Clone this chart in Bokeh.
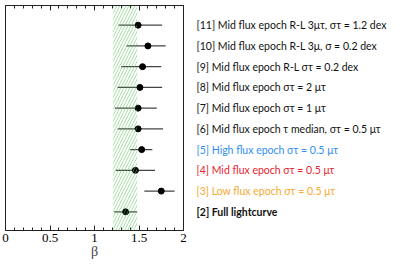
from bokeh.plotting import figure
from bokeh.layouts import row
from bokeh.models import (LinearAxis, BoxAnnotation, Range1d, FixedTicker,
                          ColumnDataSource, CustomJSTickFormatter)
from bokeh.core.properties import value
from bokeh.embed import file_html
from bokeh.resources import INLINE

# ---- data ----
rows = [11, 10, 9, 8, 7, 6, 5, 4, 3, 2]
beta = [1.49, 1.60, 1.54, 1.51, 1.49, 1.49, 1.53, 1.46, 1.75, 1.35]
beta_lo = [1.27, 1.36, 1.30, 1.26, 1.23, 1.26, 1.40, 1.24, 1.56, 1.22]
beta_hi = [1.76, 1.80, 1.75, 1.76, 1.70, 1.77, 1.65, 1.68, 1.90, 1.48]
labels = [
    "[11] Mid flux epoch R-L 3\u03bc\u03c4, \u03c3\u03c4 = 1.2 dex",
    "[10] Mid flux epoch R-L 3\u03bc, \u03c3 = 0.2 dex",
    "[9] Mid flux epoch R-L \u03c3\u03c4 = 0.2 dex",
    "[8] Mid flux epoch \u03c3\u03c4 = 2 \u03bc\u03c4",
    "[7] Mid flux epoch \u03c3\u03c4 = 1 \u03bc\u03c4",
    "[6] Mid flux epoch \u03c4 median, \u03c3\u03c4 = 0.5 \u03bc\u03c4",
    "[5] High flux epoch \u03c3\u03c4 = 0.5 \u03bc\u03c4",
    "[4] Mid flux epoch \u03c3\u03c4 = 0.5 \u03bc\u03c4",
    "[3] Low flux epoch \u03c3\u03c4 = 0.5 \u03bc\u03c4",
    "[2] Full lightcurve",
]
label_colors = ["#111111"] * 6 + ["#2f8ef0", "#e8232d", "#f7a931", "#111111"]
band = (1.21, 1.48)
x_ticks = [0, 0.5, 1, 1.5, 2]
x_minor = [i / 10 for i in range(0, 21)]

H = 261
TOP = 5
BOTTOM = 20
y_rng = Range1d(1.1, 11.95)

# ---- main panel ----
p = figure(width=188, height=H, output_backend="svg", toolbar_location=None,
           x_range=Range1d(0, 2), y_range=y_rng)
p.min_border_left = 5
p.min_border_right = 5
p.min_border_top = TOP
p.min_border_bottom = BOTTOM
p.grid.visible = False
p.yaxis.visible = False
p.background_fill_color = "white"
p.border_fill_color = "white"
p.outline_line_color = "#222222"
p.outline_line_width = 1

xa = p.xaxis[0]
xa.ticker = FixedTicker(ticks=x_ticks, minor_ticks=x_minor)
xa.major_tick_in = 5
xa.major_tick_out = 0
xa.minor_tick_in = 3
xa.minor_tick_out = 0
xa.axis_line_color = "#222222"
xa.major_tick_line_color = "#222222"
xa.minor_tick_line_color = "#222222"
xa.major_label_text_font = "Liberation Serif"
xa.major_label_text_font_size = "13px"
xa.major_label_text_color = "black"
xa.major_label_standoff = 3
xa.axis_label = "\u03b2"
xa.axis_label_text_font = "Liberation Serif"
xa.axis_label_text_font_style = "normal"
xa.axis_label_text_font_size = "14px"
xa.axis_label_standoff = -1

top = LinearAxis(ticker=FixedTicker(ticks=x_ticks, minor_ticks=x_minor),
                 formatter=CustomJSTickFormatter(code="return ''"))
top.major_tick_in = 5
top.major_tick_out = 0
top.minor_tick_in = 3
top.minor_tick_out = 0
top.major_label_standoff = 0
top.axis_line_color = "#222222"
top.major_tick_line_color = "#222222"
top.minor_tick_line_color = "#222222"
p.add_layout(top, "above")

band_box = BoxAnnotation(left=band[0], right=band[1], fill_alpha=0, line_alpha=0,
                         hatch_pattern="/", hatch_color="#5cbf5c", hatch_alpha=0.75,
                         hatch_scale=6, hatch_weight=0.7)
p.add_layout(band_box)

p.segment(x0=beta_lo, y0=rows, x1=beta_hi, y1=rows, line_color="#444444", line_width=1.3)
p.scatter(x=beta, y=rows, size=6, color="black")

# ---- label panel ----
q = figure(width=203, height=H, output_backend="svg", toolbar_location=None,
           x_range=Range1d(0, 1), y_range=y_rng)
q.min_border_left = 0
q.min_border_right = 0
q.min_border_top = TOP
q.min_border_bottom = BOTTOM
q.axis.visible = False
q.grid.visible = False
q.outline_line_color = None
q.background_fill_color = "white"
q.border_fill_color = "white"

reg = ColumnDataSource(dict(x=[0] * 9, y=rows[:9], t=labels[:9], c=label_colors[:9]))
q.text(x="x", y="y", text="t", text_color="c", source=reg, x_offset=8,
       text_font=value("Lato"), text_font_size="10.5px", text_baseline="alphabetic")
bold = ColumnDataSource(dict(x=[0], y=rows[9:], t=labels[9:], c=label_colors[9:]))
q.text(x="x", y="y", text="t", text_color="c", source=bold, x_offset=8,
       text_font=value("Lato"), text_font_size="10.5px", text_font_style="bold",
       text_baseline="alphabetic")

layout = row(p, q)
open("out.html", "w").write(file_html(layout, INLINE))
